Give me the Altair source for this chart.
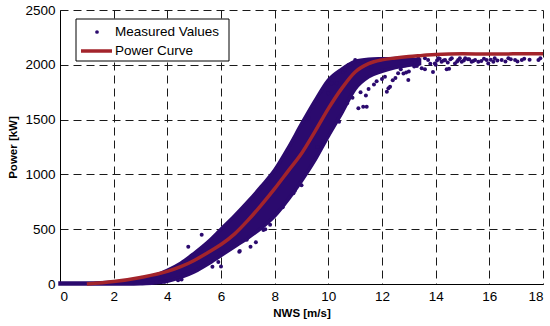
import altair as alt
import pandas as pd

# ---- data ----
# Dense core of the measured-values cloud (lower / upper edge per wind speed)
band_ws = [0, 0.5, 1, 1.5, 2, 2.5, 3, 3.5, 4, 4.5, 5, 5.5, 6, 6.5, 7, 7.5, 8, 8.5,
           9, 9.5, 10, 10.5, 11, 11.5, 12, 12.5, 13, 13.4]
band_lo = [0, 0, 0, 0, 0, 0, 2, 8, 25, 60, 110, 180, 260, 340, 420, 510, 620, 770,
           940, 1130, 1350, 1560, 1780, 1890, 1940, 1975, 1995, 2010]
band_hi = [10, 10, 10, 12, 18, 28, 45, 75, 125, 190, 280, 380, 500, 620, 750, 890, 1040, 1240,
           1460, 1670, 1860, 1960, 2030, 2050, 2055, 2058, 2055, 2045]

# Individual scattered measured values
pts_ws = [4.4, 4.53, 4.6, 4.78, 5.28, 5.68, 6.0, 6.68, 6.7, 6.96, 7.1, 7.58, 7.65, 7.83,
          8.7, 8.75, 9.26, 9.44, 10.0, 10.12, 10.19, 10.31, 10.56, 10.62, 10.75, 10.81,
          11.0, 11.12, 11.3, 11.43, 11.3, 11.6, 11.99, 12.11, 12.18, 12.24, 12.3, 12.6,
          12.7, 12.98, 13.1, 13.48, 13.6, 13.9, 14.41, 14.5,
          13.23, 13.35, 13.6, 13.72, 13.97, 14.1, 14.22, 14.35, 14.6, 14.72, 14.84, 14.97,
          15.1, 15.34, 15.47, 15.59, 15.9, 15.96, 16.15, 16.46, 16.71, 16.96, 17.21,
          17.83, 17.9, 14.3, 14.8, 15.2, 15.7, 16.3, 16.6, 12.5, 12.9, 13.3, 13.8, 14.0,
          11.8, 12.0, 12.4, 11.5, 11.7, 10.9, 11.2, 11.4, 10.7, 10.4, 12.8, 13.0, 13.2,
          14.05, 14.15, 14.45, 14.55, 14.9, 15.05, 15.25, 15.4, 15.8, 16.05, 16.2, 16.8,
          17.05, 17.3, 17.5, 9.8, 9.6, 9.0, 8.3, 7.3, 5.9, 5.1, 3.9, 3.6]
pts_p = [35, 40, 82, 340, 450, 158, 160, 295, 300, 404, 340, 493, 500, 541,
         827, 850, 1512, 1618, 1740, 1831, 1892, 1831, 1937, 1952, 1998, 1998,
         2044, 1603, 1618, 1618, 2028, 1983, 1952, 1892, 1755, 1785, 1800, 1922,
         1960, 1861, 2013, 1968, 1960, 1935, 1959, 1965,
         2028, 2059, 2059, 2044, 2013, 2059, 2028, 2044, 2059, 2013, 2044, 2028,
         2059, 2028, 2044, 2028, 2044, 2013, 2028, 2044, 2059, 2044, 2044,
         2044, 2059, 2040, 2030, 2050, 2035, 2040, 2030, 1880, 1930, 1990, 2010, 2000,
         1850, 1870, 1860, 1780, 1820, 1700, 1750, 1720, 1650, 1480, 1920, 1940, 1985,
         2040, 2055, 2020, 2050, 2060, 2040, 2050, 2035, 2055, 2045, 2060, 2050,
         2030, 2055, 2045, 1300, 1250, 900, 700, 380, 200, 130, 20, 15]

# Power curve
curve_ws = [1, 2, 3, 4, 4.5, 5, 5.5, 6, 6.5, 7, 7.5, 8, 8.5, 9, 9.5, 10, 10.5, 11,
            11.5, 12, 12.5, 13, 13.5, 14, 15, 16, 17, 18]
curve_p = [0, 22, 60, 115, 158, 215, 285, 360, 455, 580, 720, 870, 1030, 1190, 1390,
           1600, 1785, 1935, 2010, 2045, 2062, 2075, 2085, 2095, 2100, 2098, 2100, 2100]

legend_labels = ["Measured Values", "Power Curve"]
x_ticks = [0, 2, 4, 6, 8, 10, 12, 14, 16, 18]
y_ticks = [0, 500, 1000, 1500, 2000, 2500]

IND = "#2B0A6E"
RED = "#A3242B"
FONT = "Liberation Sans"

df_band = pd.DataFrame({"ws": band_ws, "lo": band_lo, "hi": band_hi})
df_pts = pd.DataFrame({"ws": pts_ws, "p": pts_p})
df_curve = pd.DataFrame({"ws": curve_ws, "p": curve_p})
one = pd.DataFrame({"a": [0]})

xs = alt.Scale(domain=[0, 18], nice=False, zero=False)
ys = alt.Scale(domain=[0, 2500], nice=False)

x_axis = alt.Axis(values=x_ticks, title="NWS [m/s]", grid=True, ticks=False, format="d",
                  labelPadding=5, titlePadding=5)
y_axis = alt.Axis(values=y_ticks, title="Power [kW]", grid=True, ticks=False, format="d",
                  labelPadding=5, titlePadding=6)

area = alt.Chart(df_band).mark_area(
    color=IND, stroke=IND, strokeWidth=3.5, interpolate="monotone"
).encode(
    x=alt.X("ws:Q", scale=xs, axis=x_axis),
    y=alt.Y("hi:Q", scale=ys, axis=y_axis),
    y2="lo:Q",
)

pts = alt.Chart(df_pts).mark_circle(color=IND, size=16, opacity=1).encode(
    x=alt.X("ws:Q", scale=xs),
    y=alt.Y("p:Q", scale=ys),
)

line = alt.Chart(df_curve).mark_line(color=RED, strokeWidth=3.5, interpolate="monotone").encode(
    x=alt.X("ws:Q", scale=xs),
    y=alt.Y("p:Q", scale=ys),
)

# legend box (decoration)
leg_box = alt.Chart(one).mark_rect(fill="white", stroke="black", strokeWidth=1).encode(
    x=alt.value(16), x2=alt.value(169), y=alt.value(9), y2=alt.value(51)
)
leg_line = alt.Chart(one).mark_rule(color=RED, strokeWidth=3.5).encode(
    x=alt.value(21), x2=alt.value(52), y=alt.value(41)
)
leg_dot = alt.Chart(one).mark_circle(color=IND, size=14, opacity=1).encode(
    x=alt.value(37), y=alt.value(22)
)
leg_t1 = alt.Chart(one).mark_text(align="left", baseline="middle", fontSize=13.5,
                                  font=FONT, color="black").encode(
    x=alt.value(55), y=alt.value(22), text=alt.value(legend_labels[0])
)
leg_t2 = alt.Chart(one).mark_text(align="left", baseline="middle", fontSize=13.5,
                                  font=FONT, color="black").encode(
    x=alt.value(55), y=alt.value(41), text=alt.value(legend_labels[1])
)

chart = alt.layer(area, pts, line, leg_box, leg_line, leg_dot, leg_t1, leg_t2).properties(
    width=483, height=274,
    padding={"left": 60, "top": 10, "right": 7, "bottom": 42},
    autosize=alt.AutoSizeParams(type="none"),
    background="white",
).configure_view(stroke=None).configure_axis(
    domainColor="black", domainWidth=1,
    gridColor="#1a1a1a", gridDash=[8, 5], gridWidth=1, gridOpacity=1,
    labelFont=FONT, labelFontSize=13.5, labelColor="black",
    titleFont=FONT, titleFontSize=11.5, titleFontWeight="bold", titleColor="black",
)

chart.save("out.html", embed_options={"renderer": "svg", "actions": False})
